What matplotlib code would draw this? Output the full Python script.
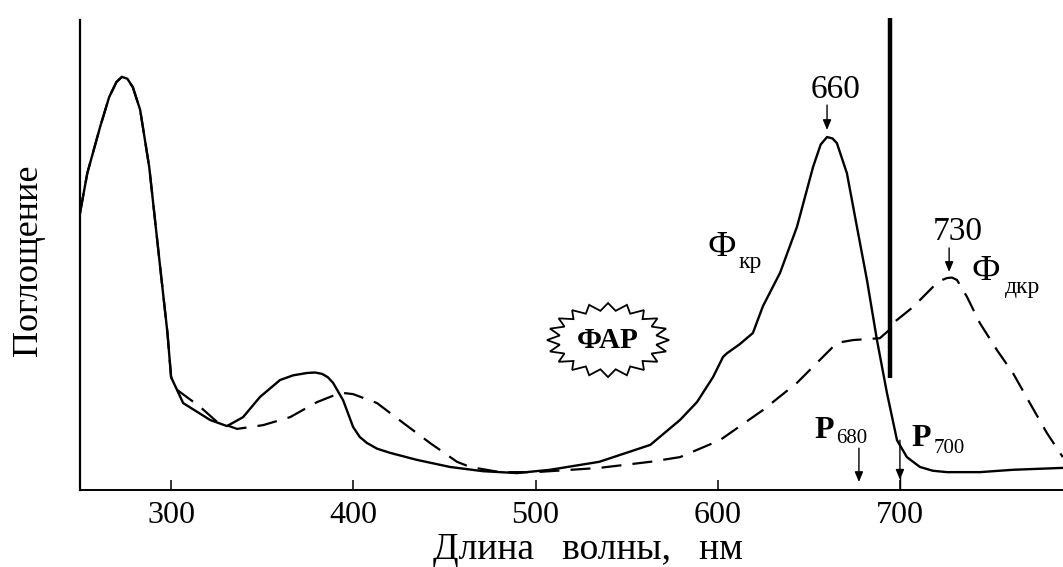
import numpy as np
import matplotlib
matplotlib.use("Agg")
import matplotlib.pyplot as plt
from matplotlib.patches import Polygon

plt.rcParams['font.family'] = ['Liberation Serif', 'DejaVu Serif']

# Pr (Фкр) absorption spectrum, solid
pr_nm = [250, 254, 261, 266, 270, 273, 276, 279, 283, 288, 294, 298, 300, 306.6, 321.4,
         330.7, 339.5, 348.8, 359.8, 367, 374.6, 379, 382.9, 386, 388.9, 394.4, 399.9,
         403.5, 407.5, 413, 420.2, 435, 453.1, 471.2, 489.9, 508, 535, 563, 579.3,
         588.6, 597.4, 602.9, 605.1, 612, 619.3, 624.8, 634.2, 643.5, 652.3, 656.5,
         660, 663, 665.4, 670.9, 676.4, 681.9, 687.4, 692.9, 698.4, 703.8, 711, 718,
         725.8, 743.9, 762, 789]
pr_abs = [0.589, 0.674, 0.772, 0.836, 0.868, 0.879, 0.875, 0.857, 0.809, 0.687, 0.474,
          0.334, 0.24, 0.185, 0.149, 0.136, 0.155, 0.198, 0.234, 0.244, 0.249, 0.250,
          0.247, 0.240, 0.228, 0.191, 0.134, 0.113, 0.100, 0.088, 0.079, 0.064, 0.049,
          0.040, 0.036, 0.043, 0.060, 0.096, 0.149, 0.187, 0.240, 0.283, 0.291, 0.310,
          0.334, 0.391, 0.462, 0.560, 0.687, 0.735, 0.751, 0.748, 0.738, 0.674, 0.560,
          0.447, 0.319, 0.206, 0.106, 0.070, 0.049, 0.041, 0.038, 0.038, 0.043, 0.047]

# Pfr (Фдкр) absorption spectrum, dashed
pfr_nm = [250, 254, 261, 266, 270, 273, 276, 279, 283, 288, 294, 298, 300, 303.3, 315.9,
          325.2, 336.2, 350.5, 365.3, 380.1, 391.1, 395.5, 399.9, 413, 427.3, 442.1,
          456.9, 464.1, 480.5, 500, 535, 563, 579.3, 601.2, 624.8, 643.5, 665.4, 674.2,
          689, 694, 696.2, 707.1, 718.1, 722, 725.8, 728.5, 731.3, 736.8, 743.9, 753.2,
          762, 771.3, 780.7, 789.4]
pfr_abs = [0.589, 0.674, 0.772, 0.836, 0.868, 0.879, 0.875, 0.857, 0.809, 0.687, 0.474,
           0.334, 0.24, 0.213, 0.177, 0.145, 0.130, 0.138, 0.155, 0.187, 0.204, 0.206,
           0.204, 0.185, 0.143, 0.100, 0.060, 0.049, 0.038, 0.038, 0.047, 0.060, 0.070,
           0.106, 0.170, 0.228, 0.313, 0.319, 0.323, 0.340, 0.355, 0.389, 0.432, 0.445,
           0.451, 0.452, 0.447, 0.411, 0.355, 0.298, 0.249, 0.185, 0.121, 0.070]

x_ticks = [300, 400, 500, 600, 700]
x_ticklabels = ['300', '400', '500', '600', '700']

fig = plt.figure(figsize=(10.63, 5.67), dpi=100)
ax = fig.add_axes([80 / 1063, 1 - 490 / 567, 983 / 1063, 470 / 567])
ax.set_xlim(250, 789.5)
ax.set_ylim(0, 1.0)

ax.plot(pfr_nm, pfr_abs, color='black', lw=1.6, linestyle=(0, (9, 5)))
ax.plot(pr_nm, pr_abs, color='black', lw=1.7)

# thick divider line
ax.plot([694.5, 694.5], [0.238, 1.005], color='black', lw=3.2, clip_on=False,
        solid_capstyle='butt')

for s in ['top', 'right']:
    ax.spines[s].set_visible(False)
ax.spines['left'].set_linewidth(1.6)
ax.spines['bottom'].set_linewidth(1.4)
ax.set_yticks([])
ax.set_xticks(x_ticks)
ax.set_xticklabels(x_ticklabels, fontsize=23)
ax.tick_params(axis='x', direction='in', length=7, width=1.1, pad=8)

ax.set_xlabel('Длина   волны,   нм', fontsize=27, labelpad=0)
ax.xaxis.set_label_coords((588 - 80) / 983, -(550 - 490) / 470)
ax.set_ylabel('Поглощение', fontsize=26)
ax.yaxis.set_label_coords(-(80 - 29) / 983, (490 - 260) / 470)
ax.xaxis.label.set_va('center')
ax.yaxis.label.set_va('center')

arrow = dict(arrowstyle='-|>,head_length=0.6,head_width=0.25', color='black', lw=1.0,
             shrinkA=0, shrinkB=0)

ax.text(664.9, 0.851, '660', fontsize=24, ha='center', va='center')
ax.annotate('', xy=(660, 0.766), xytext=(660, 0.819), arrowprops=arrow)

ax.text(731.8, 0.549, '730', fontsize=24, ha='center', va='center')
ax.annotate('', xy=(727, 0.464), xytext=(727, 0.515), arrowprops=arrow)

ax.text(602.3, 0.517, 'Ф', fontsize=26, ha='center', va='center')
ax.text(611.5, 0.483, 'кр', fontsize=17, ha='left', va='center')

ax.text(747.2, 0.464, 'Ф', fontsize=26, ha='center', va='center')
ax.text(757.5, 0.430, 'дкр', fontsize=17, ha='left', va='center')

ax.text(658.3, 0.126, 'P', fontsize=23, ha='center', va='center', fontweight='bold')
ax.text(665.0, 0.109, '680', fontsize=15, ha='left', va='center')
ax.annotate('', xy=(677.5, 0.017), xytext=(677.5, 0.089), arrowprops=arrow)

ax.text(711.5, 0.109, 'P', fontsize=23, ha='center', va='center', fontweight='bold')
ax.text(718.5, 0.089, '700', fontsize=15, ha='left', va='center')
ax.plot([700, 700], [0, 0.03], color='black', lw=1.0)
ax.annotate('', xy=(700, 0.022), xytext=(700, 0.106), arrowprops=arrow)

# starburst "ФАР"
cx, cy = 539.8, 0.319
rx, ry = 33.5, 0.0787
n = 20
ang = np.linspace(0, 2 * np.pi, 2 * n, endpoint=False)
rad = np.where(np.arange(2 * n) % 2 == 0, 1.0, 0.8)
star = Polygon(np.column_stack([cx + rx * rad * np.cos(ang), cy + ry * rad * np.sin(ang)]),
               closed=True, fill=False, edgecolor='black', lw=1.3)
ax.add_patch(star)
ax.text(cx, cy, 'ФАР', fontsize=21, fontweight='bold', ha='center', va='center')

fig.savefig('out.png', dpi=100)
